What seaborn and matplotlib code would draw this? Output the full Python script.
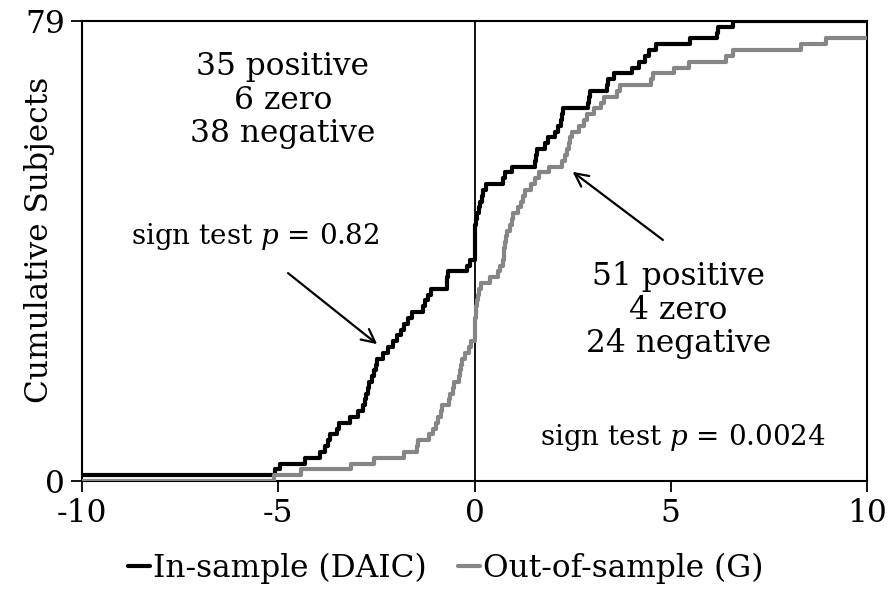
import numpy as np
import pandas as pd
import matplotlib
matplotlib.use("Agg")
import matplotlib.pyplot as plt
import seaborn as sns

# ---------------- data ----------------
series_names = ["In-sample (DAIC)", "Out-of-sample (G)"]
series_colors = ["#000000", "#868686"]

in_sample_values = [
    -11.0, -5.08, -4.95, -4.32, -3.94, -3.80, -3.72, -3.68, -3.50, -3.45,
    -3.17, -2.96, -2.85, -2.80, -2.76, -2.72, -2.68, -2.62, -2.56, -2.52,
    -2.49, -2.32, -2.20, -2.07, -1.98, -1.88, -1.80, -1.70, -1.58, -1.30,
    -1.25, -1.18, -1.10, -0.71, -0.69, -0.67, -0.20, -0.11,
    0.0, 0.0, 0.0, 0.0, 0.0, 0.0,
    0.03, 0.07, 0.12, 0.15, 0.18, 0.21, 0.30, 0.73, 0.78, 0.95,
    1.54, 1.56, 1.58, 1.80, 1.88, 2.05, 2.12, 2.20, 2.24, 2.26,
    2.90, 2.92, 2.94, 3.37, 3.41, 3.55, 4.02, 4.18, 4.34, 4.45,
    4.62, 5.50, 6.18, 6.21, 6.59,
]

out_sample_values = [
    -5.12, -4.42, -3.15, -2.56, -1.79, -1.47, -1.43, -1.15, -1.05, -0.98,
    -0.92, -0.86, -0.84, -0.64, -0.62, -0.56, -0.52, -0.40, -0.37, -0.35,
    -0.32, -0.25, -0.14, -0.10,
    0.0, 0.0, 0.0, 0.0,
    0.03, 0.05, 0.07, 0.09, 0.12, 0.17, 0.40, 0.60, 0.66, 0.72,
    0.75, 0.76, 0.78, 0.80, 0.84, 0.90, 0.96, 0.99, 1.12, 1.18,
    1.24, 1.29, 1.43, 1.55, 1.64, 1.90, 2.24, 2.30, 2.35, 2.40,
    2.44, 2.48, 2.67, 2.80, 2.86, 3.05, 3.22, 3.30, 3.62, 3.70,
    4.50, 4.56, 5.09, 5.47, 6.40, 6.59, 8.31, 8.95, 11.0, 12.0, 13.0,
]

x_range = [-10, 10]
x_ticks = [-10, -5, 0, 5, 10]
y_ticks = [0, 79]
y_label = "Cumulative Subjects"

left_counts = ["35 positive", "6 zero", "38 negative"]
right_counts = ["51 positive", "4 zero", "24 negative"]
left_p = "0.82"
right_p = "0.0024"


def step_table(values, name):
    v = np.sort(np.asarray(values, dtype=float))
    inside = v[(v > x_range[0]) & (v < x_range[1])]
    grid = np.unique(np.r_[x_range[0], inside, x_range[1]])
    counts = np.searchsorted(v, grid, side="right")
    return pd.DataFrame({"x": grid, "count": counts, "series": name})


df = pd.concat([step_table(in_sample_values, series_names[0]),
                step_table(out_sample_values, series_names[1])],
               ignore_index=True)

# ---------------- style ----------------
sns.set_theme(style="white")
plt.rcParams["font.family"] = ["DejaVu Serif"]
plt.rcParams["mathtext.fontset"] = "custom"
plt.rcParams["mathtext.rm"] = "DejaVu Serif"
plt.rcParams["mathtext.it"] = "DejaVu Serif:italic"
plt.rcParams["text.color"] = "black"
plt.rcParams["axes.labelcolor"] = "black"
plt.rcParams["xtick.color"] = "black"
plt.rcParams["ytick.color"] = "black"

FS = 22.5
FS_P = 20

fig = plt.figure(figsize=(8.91, 5.97), dpi=100)
ax = fig.add_axes([82 / 891, 1 - 481 / 597, (867 - 82) / 891, (481 - 21) / 597])

sns.lineplot(data=df, x="x", y="count", hue="series",
             palette=dict(zip(series_names, series_colors)),
             drawstyle="steps-post", estimator=None, sort=False,
             linewidth=3.0, legend=False, ax=ax, zorder=3)

ax.axvline(0, color="black", linewidth=1.3, zorder=2.6)

ax.set_xlim(*x_range)
ax.set_ylim(y_ticks[0], y_ticks[-1])
ax.set_xticks(x_ticks)
ax.set_yticks(y_ticks)
ax.set_xticklabels([str(t) for t in x_ticks])
ax.set_yticklabels([str(t) for t in y_ticks])
ax.tick_params(axis="both", direction="out", length=8, width=1.3,
               labelsize=FS, color="black", labelcolor="black", pad=4)
ax.tick_params(axis="both", left=True, bottom=True)
for s in ax.spines.values():
    s.set_visible(True)
    s.set_color("black")
    s.set_linewidth(1.5)
ax.set_xlabel("")
ax.set_ylabel(y_label, fontsize=FS, color="black")
ax.yaxis.set_label_coords((55 - 82) / 785, (481 - 240) / 460)

ax.text(-4.88, 65.4, "\n".join(left_counts), ha="center", va="center",
        fontsize=FS, linespacing=1.1, color="black")
ax.text(-5.59, 42.0, "sign test $p$ = " + left_p, ha="center", va="center",
        fontsize=FS_P, color="black")
ax.text(5.2, 29.3, "\n".join(right_counts), ha="center", va="center",
        fontsize=FS, linespacing=1.1, color="black")
ax.text(5.31, 7.4, "sign test $p$ = " + right_p, ha="center", va="center",
        fontsize=FS_P, color="black")

arrow_kw = dict(arrowstyle="->", lw=1.6, color="black", mutation_scale=24,
                shrinkA=0, shrinkB=0)
ax.annotate("", xy=(-2.48, 23.5), xytext=(-4.75, 35.7), arrowprops=arrow_kw)
ax.annotate("", xy=(2.50, 53.1), xytext=(4.80, 41.4), arrowprops=arrow_kw)

handles = ax.get_lines()[:2]
leg = fig.legend(handles, series_names, loc="center",
                 bbox_to_anchor=(0.5, 1 - 568 / 597),
                 ncol=2, frameon=False, fontsize=FS, handlelength=0.7,
                 handletextpad=0.1, columnspacing=1.0)
for t in leg.get_texts():
    t.set_color("black")

fig.savefig("out.png", dpi=100)
